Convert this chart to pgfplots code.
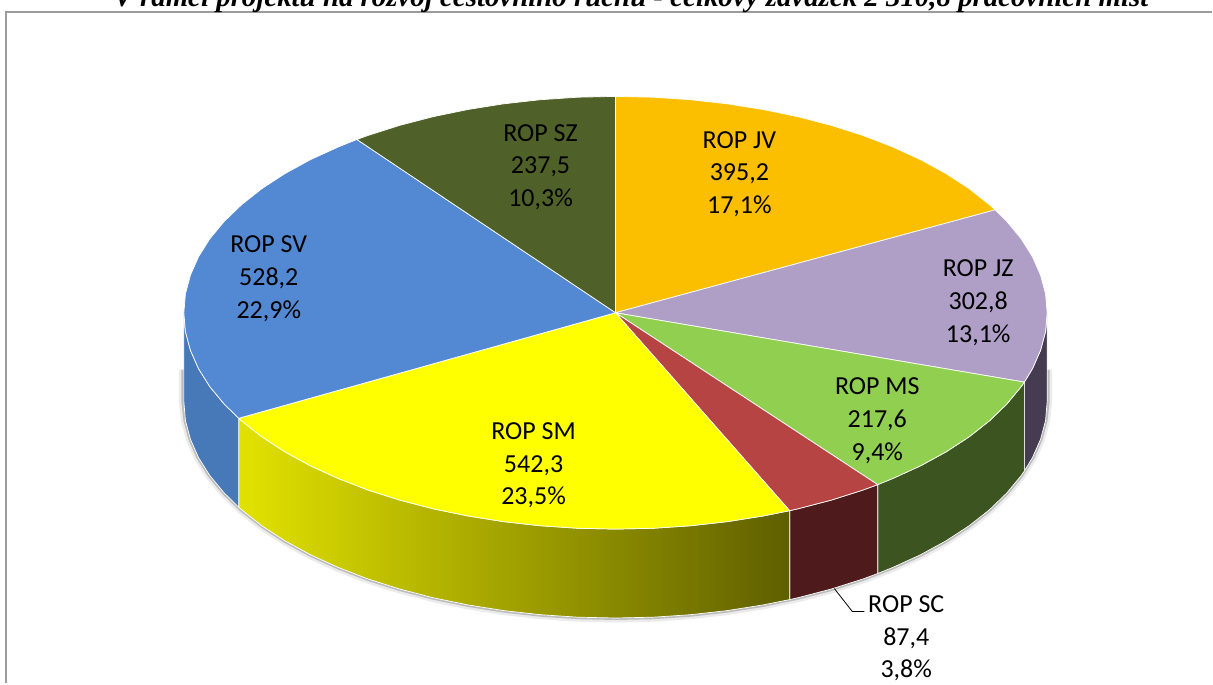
\documentclass[border=0pt]{standalone}
\usepackage{fontspec}
\setmainfont{Carlito}
\newfontfamily\titlefont{Liberation Serif}
\usepackage{pgfplots}
\pgfplotsset{compat=1.18}
\definecolor{cJV}{HTML}{FCBF00}
\definecolor{cJZ}{HTML}{AF9EC6}
\definecolor{cMS}{HTML}{90CF50}
\definecolor{cSC}{HTML}{B64442}
\definecolor{cSM}{HTML}{FFFF00}
\definecolor{cSV}{HTML}{5389D3}
\definecolor{cSZ}{HTML}{4F6128}
\definecolor{sJZ}{HTML}{453C52}
\definecolor{sMS}{HTML}{3C5420}
\definecolor{sSC}{HTML}{4E1A1B}
\definecolor{sSMa}{HTML}{E2E200}
\definecolor{sSMb}{HTML}{5F5F00}
\definecolor{sSV}{HTML}{4778B8}
\definecolor{frame}{HTML}{9C9C9C}
\begin{document}
\begin{tikzpicture}
\begin{axis}[
  at={(0,0)}, anchor=south west,
  scale only axis, width=1213pt, height=684pt,
  xmin=-1, xmax=1212, ymin=0, ymax=684, y dir=reverse,
  hide axis, clip=false, no markers,
  every axis plot/.append style={line join=round},
]
\path (axis cs:-1,0) rectangle (axis cs:1212,684);
% soft shadow under the rim
\addplot[draw=black, opacity=0.08, line width=9pt] coordinates {(1047.5,370)(1047.5,402)(1045.4,420.9)(1040.4,439.6)(1032.3,458)(1021,476)(1006.5,493.5)(989.1,510.3)(968.9,526.2)(945.9,541.2)(920.5,555.1)(892.7,567.8)(862.8,579.4)(831,589.5)(797.6,598.2)(762.7,605.4)(726.8,611.1)(690,615.2)(652.7,617.7)(615,618.5)(577.3,617.7)(540,615.2)(503.2,611.1)(467.3,605.4)(432.4,598.2)(399,589.5)(367.2,579.4)(337.3,567.8)(309.5,555.1)(284.1,541.2)(261.1,526.2)(240.9,510.3)(223.5,493.5)(209,476)(197.7,458)(189.6,439.6)(184.6,420.9)(182.5,402)(182.5,370)};
\addplot[draw=black, opacity=0.2, line width=4pt] coordinates {(1047.5,370)(1047.5,402)(1045.4,420.9)(1040.4,439.6)(1032.3,458)(1021,476)(1006.5,493.5)(989.1,510.3)(968.9,526.2)(945.9,541.2)(920.5,555.1)(892.7,567.8)(862.8,579.4)(831,589.5)(797.6,598.2)(762.7,605.4)(726.8,611.1)(690,615.2)(652.7,617.7)(615,618.5)(577.3,617.7)(540,615.2)(503.2,611.1)(467.3,605.4)(432.4,598.2)(399,589.5)(367.2,579.4)(337.3,567.8)(309.5,555.1)(284.1,541.2)(261.1,526.2)(240.9,510.3)(223.5,493.5)(209,476)(197.7,458)(189.6,439.6)(184.6,420.9)(182.5,402)(182.5,370)};
% rim
\addplot[fill=sJZ, draw=white, line width=0.7pt] coordinates {(1047,313)(1045.4,331.9)(1040.4,350.6)(1032.3,369)(1024.2,382.4)(1024.2,471.4)(1032.3,458)(1040.4,439.6)(1045.4,420.9)(1047,402)} -- cycle;
\addplot[fill=sMS, draw=white, line width=0.7pt] coordinates {(1024.2,382.4)(1021,387)(1006.5,404.5)(989.1,421.3)(968.9,437.2)(945.9,452.2)(920.5,466.1)(892.7,478.8)(877.4,485)(877.4,574)(892.7,567.8)(920.5,555.1)(945.9,541.2)(968.9,526.2)(989.1,510.3)(1006.5,493.5)(1021,476)(1024.2,471.4)} -- cycle;
\addplot[fill=sSC, draw=white, line width=0.7pt] coordinates {(877.4,485)(862.8,490.4)(831,500.5)(797.6,509.2)(789.3,511.1)(789.3,600.1)(797.6,598.2)(831,589.5)(862.8,579.4)(877.4,574)} -- cycle;
\addplot[left color=sSMa, right color=sSMb, draw=white, line width=0.7pt] coordinates {(789.3,511.1)(762.7,516.4)(726.8,522.1)(690,526.2)(652.7,528.7)(615,529.5)(577.3,528.7)(540,526.2)(503.2,522.1)(467.3,516.4)(432.4,509.2)(399,500.5)(367.2,490.4)(337.3,478.8)(309.5,466.1)(284.1,452.2)(261.1,437.2)(240.9,421.3)(237.9,418.6)(237.9,507.6)(240.9,510.3)(261.1,526.2)(284.1,541.2)(309.5,555.1)(337.3,567.8)(367.2,579.4)(399,589.5)(432.4,598.2)(467.3,605.4)(503.2,611.1)(540,615.2)(577.3,617.7)(615,618.5)(652.7,617.7)(690,615.2)(726.8,611.1)(762.7,605.4)(789.3,600.1)} -- cycle;
\addplot[fill=sSV, draw=white, line width=0.7pt] coordinates {(237.9,418.6)(223.5,404.5)(209,387)(197.7,369)(189.6,350.6)(184.6,331.9)(183,313)(183,402)(184.6,420.9)(189.6,439.6)(197.7,458)(209,476)(223.5,493.5)(237.9,507.6)} -- cycle;
% top face
\addplot[fill=cJV, draw=white, line width=0.7pt] coordinates {(615,313)(615,96.5)(652.7,97.3)(690,99.8)(726.8,103.9)(762.7,109.6)(797.6,116.8)(831,125.5)(862.8,135.6)(892.7,147.2)(920.5,159.9)(945.9,173.8)(968.9,188.8)(989.1,204.8)(995,210)} -- cycle;
\addplot[fill=cJZ, draw=white, line width=0.7pt] coordinates {(615,313)(995,210)(1006.5,221.5)(1021,239)(1032.3,257)(1040.4,275.4)(1045.4,294.1)(1047,313)(1045.4,331.9)(1040.4,350.6)(1032.3,369)(1024.2,382.4)} -- cycle;
\addplot[fill=cMS, draw=white, line width=0.7pt] coordinates {(615,313)(1024.2,382.4)(1021,387)(1006.5,404.5)(989.1,421.3)(968.9,437.2)(945.9,452.2)(920.5,466.1)(892.7,478.8)(877.4,485)} -- cycle;
\addplot[fill=cSC, draw=white, line width=0.7pt] coordinates {(615,313)(877.4,485)(862.8,490.4)(831,500.5)(797.6,509.2)(789.3,511.1)} -- cycle;
\addplot[fill=cSM, draw=white, line width=0.7pt] coordinates {(615,313)(789.3,511.1)(762.7,516.4)(726.8,522.1)(690,526.2)(652.7,528.7)(615,529.5)(577.3,528.7)(540,526.2)(503.2,522.1)(467.3,516.4)(432.4,509.2)(399,500.5)(367.2,490.4)(337.3,478.8)(309.5,466.1)(284.1,452.2)(261.1,437.2)(240.9,421.3)(237.9,418.6)} -- cycle;
\addplot[fill=cSV, draw=white, line width=0.7pt] coordinates {(615,313)(237.9,418.6)(223.5,404.5)(209,387)(197.7,369)(189.6,350.6)(184.6,331.9)(183,313)(184.6,294.1)(189.6,275.4)(197.7,257)(209,239)(223.5,221.5)(240.9,204.8)(261.1,188.8)(284.1,173.8)(309.5,159.9)(337.3,147.2)(356.2,139.6)} -- cycle;
\addplot[fill=cSZ, draw=white, line width=0.7pt] coordinates {(615,313)(356.2,139.6)(367.2,135.6)(399,125.5)(432.4,116.8)(467.3,109.6)(503.2,103.9)(540,99.8)(577.3,97.3)(615,96.5)} -- cycle;
% leader line
\addplot[draw=black, line width=0.8pt] coordinates {(834,589)(852,612)(864,612)};
% frame
\draw[frame, line width=2pt] (axis cs:5,684) -- (axis cs:5,12.5) -- (axis cs:1212,12.5);
% title (runs over the top edge of the page)
\node[overlay, anchor=base, font=\titlefont\bfseries\itshape\fontsize{28.9}{32}\selectfont, text=black, inner sep=0pt]
  at (axis cs:630.5,6.5) {V rámci projektů na rozvoj cestovního ruchu - celkový závazek 2 310,8 pracovních míst};
% labels
\tikzset{lab/.style={align=center, inner sep=0pt, font=\fontsize{26}{32.6}\selectfont, text=black}}
\node[lab] at (axis cs:739,174) {ROP JV\\395,2\\17,1\%};
\node[lab] at (axis cs:978,303) {ROP JZ\\302,8\\13,1\%};
\node[lab] at (axis cs:877,421) {ROP MS\\217,6\\9,4\%};
\node[lab] at (axis cs:906,639) {ROP SC\\87,4\\3,8\%};
\node[lab] at (axis cs:533,466) {ROP SM\\542,3\\23,5\%};
\node[lab] at (axis cs:268,279) {ROP SV\\528,2\\22,9\%};
\node[lab] at (axis cs:540,167) {ROP SZ\\237,5\\10,3\%};
\end{axis}
\end{tikzpicture}
\end{document}
